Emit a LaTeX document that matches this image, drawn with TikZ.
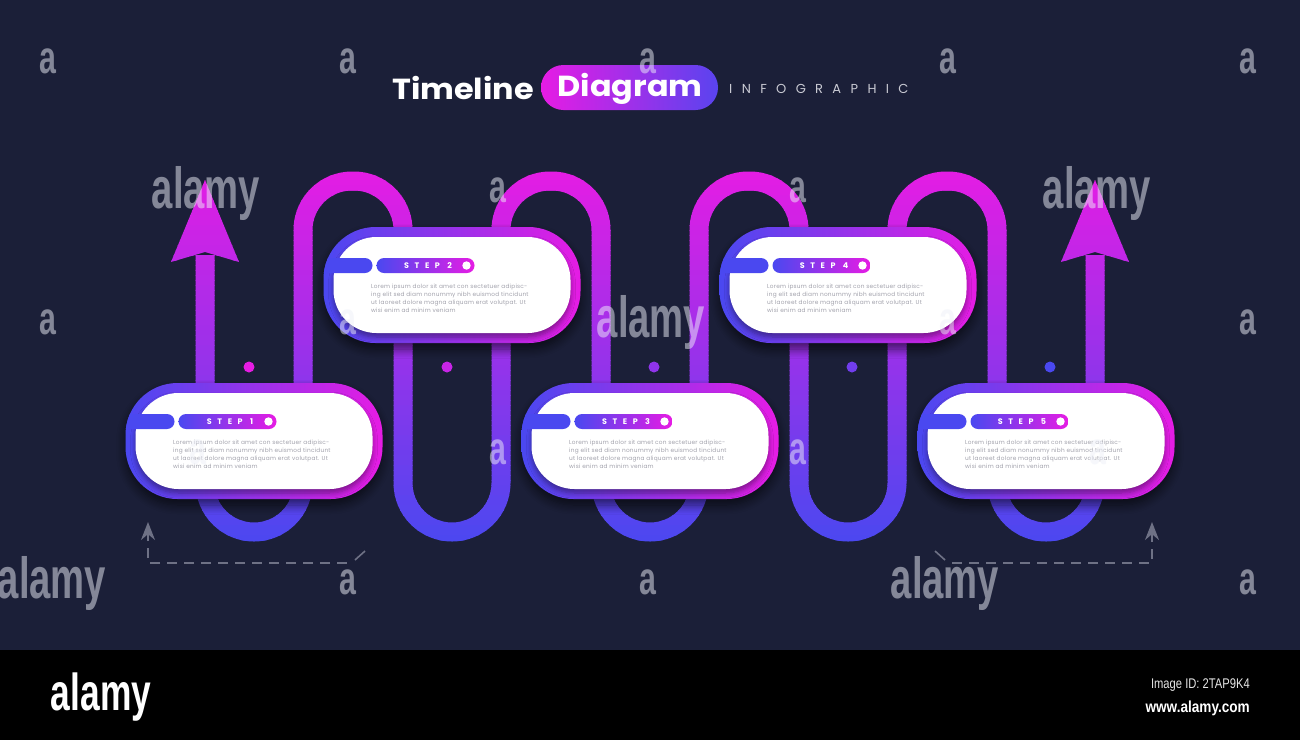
\documentclass[tikz,border=0pt]{standalone}
\usepackage{fontspec}
\usepackage{graphicx}
\usetikzlibrary{arrows.meta,shadows.blur}
\setmainfont{Poppins}
\newfontfamily\pop{Poppins}
\newfontfamily\popls{Poppins}[LetterSpace=70]
\newfontfamily\popinfo{Poppins}[LetterSpace=72]
\newfontfamily\popbody{Poppins}[LetterSpace=4]
\newfontfamily\wm{Liberation Sans}
\definecolor{bgC}{HTML}{1B1F38}
\definecolor{magC}{HTML}{E61CE4}
\definecolor{bluC}{HTML}{4A48F0}
\definecolor{dashC}{HTML}{6E7185}
\definecolor{txtC}{HTML}{A2A2AC}
\definecolor{infoC}{HTML}{C9CAD3}
\definecolor{wmC}{HTML}{EEF0F8}
\def\snakepath{(205,255) -- (205,532) -- (303,532) -- (303,181) -- (403,181) -- (403,532) -- (501,532) -- (501,181) -- (601,181) -- (601,532) -- (699,532) -- (699,181) -- (799,181) -- (799,532) -- (897,532) -- (897,181) -- (997,181) -- (997,532) -- (1095,532) -- (1095,255)}
\begin{document}
\begin{tikzpicture}[x=1pt,y=-1pt,
  snakeline/.style={line width=19pt, rounded corners=49pt},
  boxshadow/.style={fill=bgC, blur shadow={shadow xshift=0pt, shadow yshift=-6pt, shadow opacity=60, shadow blur radius=9pt, shadow blur steps=8}},
  boxouter/.style={left color=bluC, right color=magC, rounded corners=52pt},
  boxinner/.style={fill=white, rounded corners=43pt, blur shadow={shadow xshift=0pt, shadow yshift=-4pt, shadow opacity=40, shadow blur radius=5pt, shadow blur steps=6}},
  steplbl/.style={font=\popls\bfseries\fontsize{8}{9}\selectfont, text=white, inner sep=0pt},
  bodytxt/.style={font=\popbody\fontsize{5.8}{8}\selectfont, text=txtC, align=left, inner sep=0pt, anchor=north west},
  wmbig/.style={font=\wm\bfseries\fontsize{58}{58}\selectfont, text=wmC, opacity=0.5, inner sep=0pt},
  wmsmall/.style={font=\wm\bfseries\fontsize{46}{46}\selectfont, text=wmC, opacity=0.5, inner sep=0pt},
  dashln/.style={dashC, line width=1.6pt, dash pattern=on 10pt off 7pt, -{Stealth[length=18pt,width=14pt]}},
  tickln/.style={dashC, line width=1.6pt}
]
\useasboundingbox (0,0) rectangle (1300,740);
\fill[bgC] (0,0) rectangle (1300,650);
\fill[black] (0,650) rectangle (1300,740);

% ---------- snake with vertical gradient ----------
\foreach \i in {0,...,74}{
  \pgfmathsetmacro\ya{170+5*\i}
  \pgfmathtruncatemacro\t{100*(1-(\i+0.5)/75)}
  \colorlet{bandc}{magC!\t!bluC}
  \begin{scope}
    \clip (0,\ya) rectangle (1300,\ya+5.6);
    \draw[snakeline,bandc] \snakepath;
    \fill[bandc] (205,180) -- (239,262) -- (205,252) -- (171,262) -- cycle;
    \fill[bandc] (1095,180) -- (1129,262) -- (1095,252) -- (1061,262) -- cycle;
  \end{scope}
}

% ---------- dots ----------
\fill[magC] (249,367) circle (5.5);
\fill[magC!80!bluC] (447,367) circle (5.5);
\fill[magC!45!bluC] (654,367) circle (5.5);
\fill[magC!25!bluC] (852,367) circle (5.5);
\fill[bluC] (1050,367) circle (5.5);

% ---------- step boxes ----------
\foreach \k/\cx/\cy in {1/254/441, 2/452/285, 3/650/441, 4/848/285, 5/1046/441}{
  \path[boxshadow, rounded corners=52pt] (\cx-128.5,\cy-58) rectangle (\cx+128.5,\cy+58);
  \path[boxouter] (\cx-128.5,\cy-58) rectangle (\cx+128.5,\cy+58);
  \path[boxinner] (\cx-118.5,\cy-48) rectangle (\cx+118.5,\cy+48);
  \begin{scope}
    \clip[rounded corners=52pt] (\cx-128.5,\cy-58) rectangle (\cx+128.5,\cy+58);
    \fill[bluC, rounded corners=7.5pt] (\cx-145,\cy-27) rectangle (\cx-79.5,\cy-12);
  \end{scope}
  \path[left color=bluC, right color=magC, rounded corners=7.5pt] (\cx-75.5,\cy-27) rectangle (\cx+22.5,\cy-12);
  \fill[white] (\cx+14.5,\cy-19.5) circle (4.2);
  \node[steplbl] (s\k) at (\cx-24,\cy-19.5) {STEP \k};
  \node[bodytxt] (b\k) at (\cx-81,\cy-1.5) {Lorem ipsum dolor sit amet con sectetuer adipisc-\\ing elit sed diam nonummy nibh euismod tincidunt\\ut laoreet dolore magna aliquam erat volutpat. Ut\\wisi enim ad minim veniam};
}

% ---------- title ----------
\node[font=\pop\bfseries\fontsize{29}{34}\selectfont, text=white, anchor=base west, inner sep=0pt] (tl) at (392,99) {\scalebox{1.1}[1]{Timeline}};
\path[left color=magC, right color=bluC!90!magC, rounded corners=22.5pt] (541,65) rectangle (718,110);
\node[font=\pop\bfseries\fontsize{29}{34}\selectfont, text=white, anchor=base, inner sep=0pt] (dg) at (630,96) {\scalebox{1.1}[1]{Diagram}};
\node[font=\popinfo\fontsize{13}{14}\selectfont, text=infoC, anchor=base west, inner sep=0pt] (info) at (729,93.5) {INFOGRAPHIC};

% ---------- dashed corner arrows ----------
\coordinate (la) at (148,522);
\coordinate (lc) at (148,563);
\coordinate (lr) at (347,563);
\coordinate (lt1) at (355,560);
\coordinate (lt2) at (365,551);
\draw[dashln] (lr) -- (lc) -- (la);
\draw[tickln] (lt1) -- (lt2);
\coordinate (ra) at (1152,522);
\coordinate (rc) at (1152,563);
\coordinate (rl) at (952,563);
\coordinate (rt1) at (945,560);
\coordinate (rt2) at (935,551);
\draw[dashln] (rl) -- (rc) -- (ra);
\draw[tickln] (rt1) -- (rt2);

% ---------- watermarks ----------
\node[wmbig] (w1) at (206,193) {\scalebox{0.66}[1]{alamy}};
\node[wmbig] (w2) at (1097,193) {\scalebox{0.66}[1]{alamy}};
\node[wmbig] (w3) at (651,322) {\scalebox{0.66}[1]{alamy}};
\node[wmbig] (w4) at (52,583) {\scalebox{0.66}[1]{alamy}};
\node[wmbig] (w5) at (945,583) {\scalebox{0.66}[1]{alamy}};
\foreach \n/\x/\y in {a1/48/61, a2/348/61, a3/648/61, a4/948/61, a5/1248/61,
                       a6/498/190, a7/798/190,
                       a8/48/322, a9/348/322, a10/948/322, a11/1248/322,
                       a12/198/452, a13/498/452, a14/798/452, a15/1098/452,
                       a16/348/582, a17/648/582, a18/1248/582}{
  \node[wmsmall] (\n) at (\x,\y) {\scalebox{0.66}[1]{a}};
}

% ---------- bottom band ----------
\node[font=\wm\bfseries\fontsize{52}{52}\selectfont, text=white, inner sep=0pt] (al) at (101,697) {\scalebox{0.68}[1]{alamy}};
\node[font=\wm\fontsize{14}{16}\selectfont, text=white!90!black, anchor=base east, inner sep=0pt] (iid) at (1250,688) {\scalebox{0.8}[1]{Image ID: 2TAP9K4}};
\node[font=\wm\bfseries\fontsize{16}{18}\selectfont, text=white, anchor=base east, inner sep=0pt] (url) at (1250,712) {\scalebox{0.85}[1]{www.alamy.com}};
\end{tikzpicture}
\end{document}
